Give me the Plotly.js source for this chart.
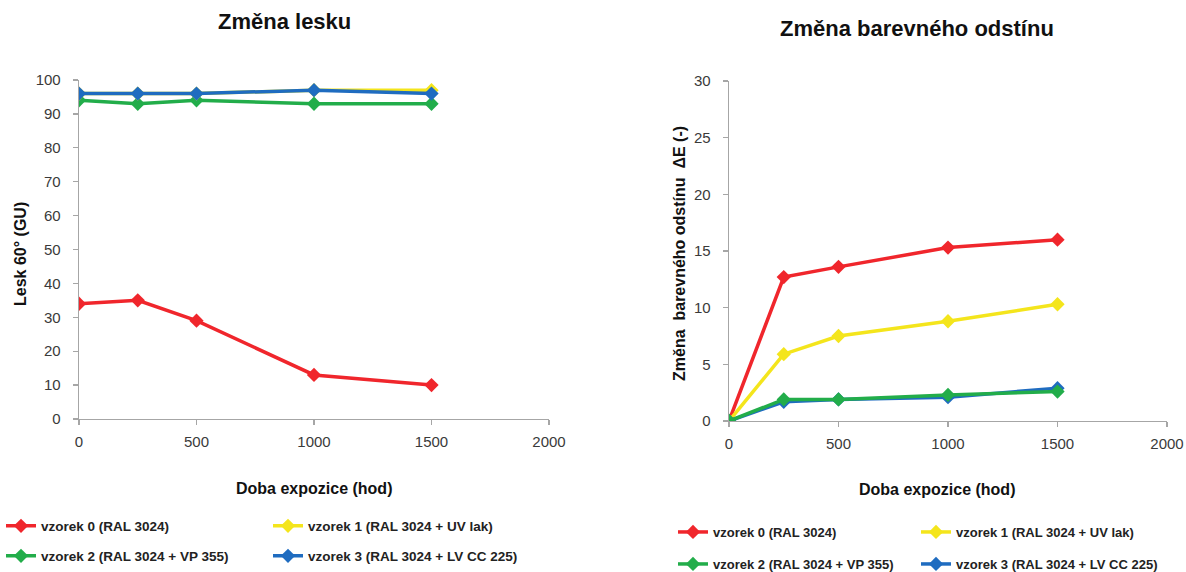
<!DOCTYPE html>
<html>
<head>
<meta charset="utf-8">
<script src="https://cdn.plot.ly/plotly-3.0.1.min.js"></script>
<style>html,body{margin:0;padding:0;background:#fff;}#chart{width:1186px;height:572px;}</style>
</head>
<body>
<div id="chart"></div>
<script>
// ---- data ----
const hours = [0, 250, 500, 1000, 1500];
const seriesNames = [
  "vzorek 0 (RAL 3024)",
  "vzorek 1 (RAL 3024 + UV lak)",
  "vzorek 2 (RAL 3024 + VP 355)",
  "vzorek 3 (RAL 3024 + LV CC 225)"
];
// Změna lesku (GU)
const gloss0 = [34, 35, 29, 13, 10];
const gloss1 = [96, 96, 96, 97, 97];
const gloss2 = [94, 93, 94, 93, 93];
const gloss3 = [96, 96, 96, 97, 96];
// Změna barevného odstínu ΔE
const dE0 = [0, 12.7, 13.6, 15.3, 16.0];
const dE1 = [0, 5.9, 7.5, 8.8, 10.3];
const dE2 = [0, 1.9, 1.9, 2.3, 2.6];
const dE3 = [0, 1.7, 1.9, 2.1, 2.9];

const xTicks = [0, 500, 1000, 1500, 2000];
const glossTicks = [0, 10, 20, 30, 40, 50, 60, 70, 80, 90, 100];
const dETicks = [0, 5, 10, 15, 20, 25, 30];

const colors = ["#f0262c", "#f4e51c", "#22ad4a", "#1f6cc0"];

const W = 1186, H = 572;
const px = v => v / W;
const py = v => (H - v) / H;

const FONT = "Liberation Sans, Arial, sans-serif";

function tr(y, i, xa, ya, legend) {
  return {
    x: hours, y: y, name: seriesNames[i], type: "scatter", mode: "lines+markers",
    xaxis: xa, yaxis: ya, legend: legend,
    line: {color: colors[i], width: 3.5},
    marker: {color: colors[i], symbol: "diamond", size: 11}
  };
}

// draw order: red, green, yellow, blue (blue on top) on the left; green over blue on the right
const traces = [
  tr(gloss0, 0, "x", "y", "legend"),
  tr(gloss2, 2, "x", "y", "legend2"),
  tr(gloss1, 1, "x", "y", "legend"),
  tr(gloss3, 3, "x", "y", "legend2"),
  tr(dE0, 0, "x2", "y2", "legend3"),
  tr(dE1, 1, "x2", "y2", "legend3"),
  tr(dE3, 3, "x2", "y2", "legend4"),
  tr(dE2, 2, "x2", "y2", "legend4")
];

const axBase = {
  showgrid: false, zeroline: false, showline: true, linecolor: "#a6a6a6", linewidth: 1.3,
  ticks: "outside", ticklen: 5, tickcolor: "#a6a6a6", tickwidth: 1.3, automargin: false,
  tickfont: {family: FONT, size: 15, color: "#3a3a3a"}, fixedrange: true
};

const legBase = {
  orientation: "h", xanchor: "left", yanchor: "middle", bgcolor: "rgba(0,0,0,0)",
  xref: "container", yref: "container",
  font: {family: FONT, size: 13.5, color: "#222", weight: "bold"},
  traceorder: "normal", itemwidth: 30, entrywidthmode: "pixels"
};
const legFontR = {family: FONT, size: 13, color: "#222", weight: "bold"};

const titleFont = {family: FONT, size: 22, color: "#111", weight: "bold"};
const axTitleFont = {family: FONT, size: 16, color: "#111", weight: "bold"};

function ann(text, x, y, font, angle) {
  return {text: text, x: px(x), y: py(y), xref: "paper", yref: "paper", xanchor: "center", yanchor: "middle",
          showarrow: false, textangle: angle || 0, font: font};
}

const layout = {
  width: W, height: H,
  margin: {l: 0, r: 0, t: 0, b: 0, autoexpand: false},
  paper_bgcolor: "#fff", plot_bgcolor: "#fff",
  showlegend: true,
  xaxis: Object.assign({}, axBase, {domain: [px(79), px(549)], range: [0, 2000], tickvals: xTicks, ticklabelstandoff: 4, anchor: "y"}),
  yaxis: Object.assign({}, axBase, {domain: [py(419), py(80)], range: [0, 100], tickvals: glossTicks, ticklabelstandoff: 9, anchor: "x"}),
  xaxis2: Object.assign({}, axBase, {domain: [px(729), px(1167)], range: [0, 2000], tickvals: xTicks, ticklabelstandoff: 4, anchor: "y2"}),
  yaxis2: Object.assign({}, axBase, {domain: [py(421), py(81)], range: [0, 30], tickvals: dETicks, ticklabelstandoff: 9, anchor: "x2"}),
  legend: Object.assign({}, legBase, {x: px(1), y: py(526), entrywidth: 222}),
  legend2: Object.assign({}, legBase, {x: px(1), y: py(556), entrywidth: 222}),
  legend3: Object.assign({}, legBase, {x: px(673), y: py(532), entrywidth: 198, font: legFontR}),
  legend4: Object.assign({}, legBase, {x: px(673), y: py(564), entrywidth: 198, font: legFontR, traceorder: "reversed"}),
  annotations: [
    ann("Změna lesku", 284, 22, titleFont),
    ann("Změna barevného odstínu", 917, 28, titleFont),
    ann("Lesk 60° (GU)", 20, 254, axTitleFont, -90),
    ann("Změna  barevného odstínu  ΔE (-)", 679, 253, axTitleFont, -90),
    ann("Doba expozice (hod)", 314, 488, axTitleFont),
    ann("Doba expozice (hod)", 937, 489, axTitleFont)
  ]
};

Plotly.newPlot("chart", traces, layout, {displayModeBar: false, staticPlot: true});
</script>
</body>
</html>
